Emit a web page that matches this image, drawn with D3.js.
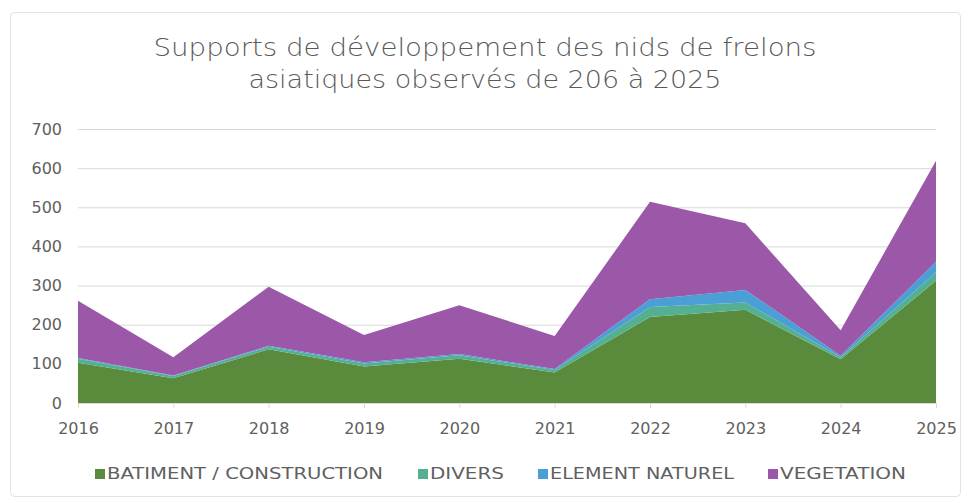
<!DOCTYPE html>
<html><head><meta charset="utf-8">
<script src="https://cdn.jsdelivr.net/npm/d3@7"></script>
<style>body{margin:0;background:#fff;} svg{display:block;font-family:'DejaVu Sans','Lato',sans-serif;}</style>
</head><body>
<svg id="c" width="970" height="500"></svg>
<script>
const years = ["2016","2017","2018","2019","2020","2021","2022","2023","2024","2025"];
const batiment = [103, 63, 137, 93, 113, 78, 220, 238, 112, 312];
const divers = [10, 6, 7, 8, 9, 6, 25, 19, 5, 22];
const elementNaturel = [2, 1, 2, 3, 3, 3, 20, 32, 4, 27];
const vegetation = [146, 47, 151, 70, 125, 84, 249, 170, 65, 258];
const seriesNames = ["BATIMENT / CONSTRUCTION","DIVERS","ELEMENT NATUREL","VEGETATION"];
const colors = ["#5a8a3c","#55b092","#4a9fd6","#9b58a9"];
const yTicks = [0,100,200,300,400,500,600,700];
const title = ["Supports de développement des nids de frelons","asiatiques observés de 206 à 2025"];

const svg = d3.select("#c");
svg.append("rect").attr("x",10.5).attr("y",12.5).attr("width",950).attr("height",484).attr("rx",4)
  .attr("fill","#fff").attr("stroke","#e2e2e2");

const table = years.map((y,i)=>({year:y, s0:batiment[i], s1:divers[i], s2:elementNaturel[i], s3:vegetation[i]}));
const keys = ["s0","s1","s2","s3"];
const stack = d3.stack().keys(keys)(table);

const x = d3.scalePoint().domain(years).range([78,936]);
const y = d3.scaleLinear().domain([0,700]).range([403,129]);

svg.append("g").selectAll("line").data(yTicks.slice(1)).join("line")
  .attr("x1",78).attr("x2",936).attr("y1",d=>y(d)+0.5).attr("y2",d=>y(d)+0.5)
  .attr("stroke","#d9d9d9").attr("stroke-width",1);

const area = d3.area().x(d=>x(d.data.year)).y0(d=>y(d[0])).y1(d=>y(d[1]));
svg.append("g").selectAll("path").data(stack).join("path")
  .attr("d",area).attr("fill",(d,i)=>colors[i]);

const yAxis = d3.axisLeft(y).tickValues(yTicks).tickSize(0).tickPadding(16);
const gy = svg.append("g").attr("transform","translate(78,0)").call(yAxis);
gy.select(".domain").remove();
gy.selectAll("text").attr("fill","#606060").attr("font-size",16).attr("font-family","DejaVu Sans").attr("font-weight",400);

const xAxis = d3.axisBottom(x).tickSize(5).tickPadding(15);
const gx = svg.append("g").attr("transform","translate(0,403)").call(xAxis);
gx.select(".domain").attr("stroke","#d9d9d9");
gx.selectAll(".tick line").attr("stroke","#d9d9d9");
gx.selectAll("text").attr("fill","#606060").attr("font-size",16).attr("font-family","DejaVu Sans").attr("font-weight",400);

const titleW = [663, 473];
svg.append("g").selectAll("text").data(title).join("text")
  .attr("x",485).attr("y",(d,i)=>56+i*32).attr("text-anchor","middle")
  .attr("fill","#595959").attr("font-size",24).attr("font-weight",200)
  .attr("textLength",(d,i)=>titleW[i]).attr("lengthAdjust","spacingAndGlyphs").text(d=>d);

const legX = [95,418,538,768];
const legW = [277, 75, 185, 127];
const lg = svg.append("g").selectAll("g").data(seriesNames).join("g")
  .attr("transform",(d,i)=>`translate(${legX[i]},474)`);
lg.append("rect").attr("x",0).attr("y",-5).attr("width",10).attr("height",10).attr("fill",(d,i)=>colors[i]);
lg.append("text").attr("x",12).attr("y",0).attr("dy","0.35em").attr("fill","#606060").attr("font-size",15).attr("font-weight",400)
  .attr("textLength",(d,i)=>legW[i]-1).attr("lengthAdjust","spacingAndGlyphs").text(d=>d);
</script>
</body></html>
